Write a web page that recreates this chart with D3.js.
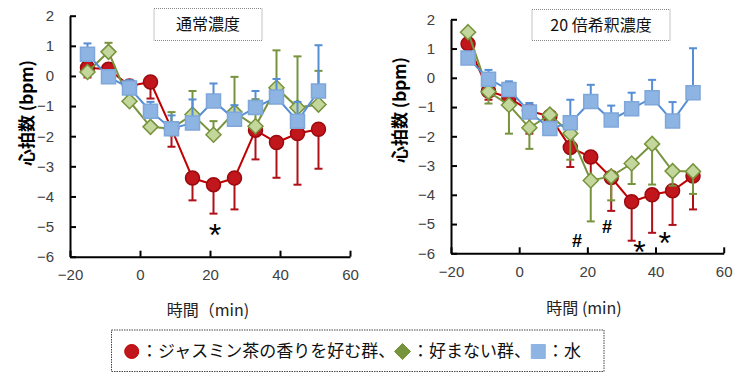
<!DOCTYPE html>
<html>
<head>
<meta charset="utf-8">
<script src="https://cdn.jsdelivr.net/npm/d3@7"></script>
<style>
   body { margin: 0; background: #fff; }
   svg text { font-family: "Liberation Sans", "Noto Sans CJK JP", sans-serif; }
   .jp { font-family: "Noto Sans CJK JP", sans-serif; }
</style>
</head>
<body>
<svg id="chart" width="744" height="386"></svg>
<script>
// time points (min)
var times = [-15, -9, -3, 3, 9, 15, 21, 27, 33, 39, 45, 51];
var xTicks = [-20, 0, 20, 40, 60];
var yTicks = [2, 1, 0, -1, -2, -3, -4, -5, -6];

// 通常濃度
var normalLike = [0.27, 0.22, -0.33, -0.2, -1.75, -3.39, -3.61, -3.39, -1.8, -2.21, -1.91, -1.77];
var normalLikeErr = [0.32, 0.1, 0.1, 0.55, 0.6, 0.74, 0.96, 1.04, 0.97, 1.17, 1.7, 1.31];
var normalDislike = [0.13, 0.8, -0.84, -1.69, -1.75, -1.28, -1.95, -1.2, -1.67, -0.39, -1.05, -0.95];
var normalDislikeErr = [0.1, 0.3, 0.1, 0.1, 0.55, 0.78, 0.45, 1.17, 0.9, 1.24, 1.7, 1.12];
var normalWater = [0.72, -0.03, -0.4, -1.17, -1.75, -1.56, -0.83, -1.44, -1.05, -0.7, -1.5, -0.5];
var normalWaterErr = [0.36, 0.1, 0.26, 0.31, 0.44, 0.78, 0.58, 0.47, 0.55, 0.6, 0.64, 1.52];

// 20倍希釈濃度
var dilutedLike = [1.16, -0.45, -0.68, -1.13, -1.32, -2.38, -2.71, -3.41, -4.24, -4.0, -3.86, -3.36];
var dilutedLikeErr = [0.1, 0.3, 0.15, 0.78, 0.3, 0.67, 0.7, 1.14, 1.33, 1.3, 1.17, 1.14];
var dilutedDislike = [1.56, -0.48, -0.93, -1.71, -1.26, -1.9, -3.51, -3.37, -2.93, -2.26, -3.19, -3.2];
var dilutedDislikeErr = [0.1, 0.4, 0.98, 0.72, 0.2, 0.9, 1.4, 0.82, 0.7, 1.39, 0.5, 0.77];
var dilutedWater = [0.68, -0.05, -0.4, -1.17, -1.73, -1.54, -0.81, -1.44, -1.06, -0.68, -1.48, -0.51];
var dilutedWaterErr = [0.1, 0.32, 0.28, 0.31, 0.2, 0.79, 0.57, 0.49, 0.55, 0.61, 0.65, 1.52];

// significance marks [time, value, symbol]
var normalMarks = [[21.4, -5.06, "*"]];
var dilutedMarks = [[17, -5.56, "#"], [25.8, -5.1, "#"], [35.3, -5.73, "*"], [42.7, -5.43, "*"]];

var legendLabels = ["：ジャスミン茶の香りを好む群、", "：好まない群、", "：水"];

var styles = {
   like: { line: "#c00000", bar: "#b01018", fill: "#c0161c", stroke: "#9b0a0e" },
   dislike: { line: "#77933c", bar: "#77933c", fill: "#c3d69b", stroke: "#77933c" },
   water: { line: "#558ed5", bar: "#558ed5", fill: "#8db4e2", stroke: "#7fa7da" }
};

var svg = d3.select("svg#chart");

function drawPanel(p) {
   var x = d3.scaleLinear().domain([-20, 60]).range([p.left, p.right]);
   var y = d3.scaleLinear().domain([-6, 2]).range([p.bottom, p.top]);
   var g = svg.append("g");

   // axes, ticks inside
   var xAxis = g.append("g")
      .attr("transform", "translate(0," + p.bottom + ")")
      .call(d3.axisBottom(x).tickValues(xTicks).tickSizeInner(-6).tickSizeOuter(0).tickPadding(13));
   var yAxis = g.append("g")
      .attr("transform", "translate(" + p.left + ",0)")
      .call(d3.axisLeft(y).tickValues(yTicks).tickSizeInner(-6).tickSizeOuter(0).tickPadding(16));
   [xAxis, yAxis].forEach(function (a) {
      a.select(".domain").attr("stroke", "#000").attr("stroke-width", 2);
      a.selectAll(".tick line").attr("stroke", "#000").attr("stroke-width", 2);
      a.selectAll(".tick text").attr("font-size", 15).attr("fill", "#404040");
   });

   // axis titles
   g.append("text")
      .attr("class", "jp")
      .attr("transform", "translate(" + p.yTitleX + "," + p.yTitleY + ") rotate(-90)")
      .attr("text-anchor", "middle")
      .attr("dy", "0.35em")
      .attr("font-size", 17)
      .attr("font-weight", "bold")
      .text("心拍数 (bpm)");
   g.append("text")
      .attr("class", "jp")
      .attr("x", p.xTitleX)
      .attr("y", p.xTitleY)
      .attr("text-anchor", "middle")
      .attr("dy", "0.35em")
      .attr("font-size", 16)
      .attr("fill", "#222")
      .text(p.xTitle);

   // title box
   g.append("rect")
      .attr("x", p.box[0]).attr("y", p.box[1])
      .attr("width", p.box[2]).attr("height", p.box[3])
      .attr("fill", "#fff")
      .attr("stroke", "#888")
      .attr("stroke-dasharray", "1,1");
   g.append("text")
      .attr("class", "jp")
      .attr("x", p.box[0] + p.box[2] / 2)
      .attr("y", p.box[1] + p.box[3] / 2)
      .attr("text-anchor", "middle")
      .attr("dy", "0.35em")
      .attr("font-size", 16)
      .attr("fill", "#111")
      .text(p.title);

   // series: red, green, blue (blue on top)
   p.series.forEach(function (s) {
      var st = styles[s.key];
      var data = times.map(function (t, i) {
         return { t: t, v: s.values[i], e: s.err[i] };
      });
      var bars = g.append("g");
      data.forEach(function (d) {
         var end = d.v + s.dir * d.e;
         bars.append("line")
            .attr("x1", x(d.t)).attr("x2", x(d.t))
            .attr("y1", y(d.v)).attr("y2", y(end))
            .attr("stroke", st.bar).attr("stroke-width", 2);
         bars.append("line")
            .attr("x1", x(d.t) - 4).attr("x2", x(d.t) + 4)
            .attr("y1", y(end)).attr("y2", y(end))
            .attr("stroke", st.bar).attr("stroke-width", 2);
      });
      g.append("path")
         .datum(data)
         .attr("fill", "none")
         .attr("stroke", st.line)
         .attr("stroke-width", 2)
         .attr("d", d3.line()
            .x(function (d) { return x(d.t); })
            .y(function (d) { return y(d.v); }));
      g.append("g").selectAll("path").data(data).enter().append("path")
         .attr("transform", function (d) { return "translate(" + x(d.t) + "," + y(d.v) + ")"; })
         .attr("fill", st.fill)
         .attr("stroke", st.stroke)
         .attr("stroke-width", 1.5)
         .attr("d", markerPath(s.key));
   });

   // significance marks
   g.selectAll("text.mark").data(p.marks).enter().append("text")
      .attr("class", "mark")
      .attr("x", function (d) { return x(d[0]); })
      .attr("y", function (d) { return y(d[1]); })
      .attr("text-anchor", "middle")
      .attr("dy", function (d) { return d[2] == "*" ? "0.55em" : "0.35em"; })
      .attr("font-size", function (d) { return d[2] == "*" ? 32 : 18; })
      .attr("font-weight", function (d) { return d[2] == "*" ? "normal" : "bold"; })
      .attr("fill", "#000")
      .text(function (d) { return d[2]; });
}

function markerPath(key) {
   if (key == "like") return d3.symbol().type(d3.symbolCircle).size(Math.PI * 49)();
   if (key == "dislike") return "M0,-7.5L7.5,0L0,7.5L-7.5,0Z";
   return "M-7,-7L7,-7L7,7L-7,7Z";
}

drawPanel({
   left: 70, right: 350, top: 15.7, bottom: 256.7,
   yTitleX: 27, yTitleY: 113, xTitleX: 208, xTitleY: 310, xTitle: "時間（min)",
   box: [154, 8.5, 108, 32], title: "通常濃度",
   series: [
      { key: "like", values: normalLike, err: normalLikeErr, dir: -1 },
      { key: "dislike", values: normalDislike, err: normalDislikeErr, dir: 1 },
      { key: "water", values: normalWater, err: normalWaterErr, dir: 1 }
   ],
   marks: normalMarks
});

drawPanel({
   left: 451, right: 723.7, top: 19.3, bottom: 253.3,
   yTitleX: 400, yTitleY: 110, xTitleX: 584, xTitleY: 308, xTitle: "時間 (min)",
   box: [532, 9.5, 138, 31], title: "20 倍希釈濃度",
   series: [
      { key: "like", values: dilutedLike, err: dilutedLikeErr, dir: -1 },
      { key: "dislike", values: dilutedDislike, err: dilutedDislikeErr, dir: -1 },
      { key: "water", values: dilutedWater, err: dilutedWaterErr, dir: 1 }
   ],
   marks: dilutedMarks
});

// legend box
var legend = svg.append("g");
legend.append("rect")
   .attr("x", 111.5).attr("y", 330)
   .attr("width", 492.5).attr("height", 41.5)
   .attr("fill", "#fff")
   .attr("stroke", "#444")
   .attr("stroke-dasharray", "1.5,1");
var legendKeys = ["like", "dislike", "water"];
var legendMarkerX = [131.7, 402.5, 538.3];
var legendTextX = [141, 412, 547];
legendKeys.forEach(function (k, i) {
   var st = styles[k];
   legend.append("path")
      .attr("transform", "translate(" + legendMarkerX[i] + ",351.5)")
      .attr("fill", k == "dislike" ? "#77933c" : st.fill)
      .attr("stroke", k == "like" ? "#c00000" : (k == "dislike" ? "#77933c" : st.fill))
      .attr("d", k == "dislike" ? "M0,-8L8,0L0,8L-8,0Z" : markerPath(k));
   legend.append("text")
      .attr("class", "jp")
      .attr("x", legendTextX[i])
      .attr("y", 351.5)
      .attr("dy", "0.35em")
      .attr("font-size", 17)
      .attr("fill", "#111")
      .text(legendLabels[i]);
});
</script>
</body>
</html>
